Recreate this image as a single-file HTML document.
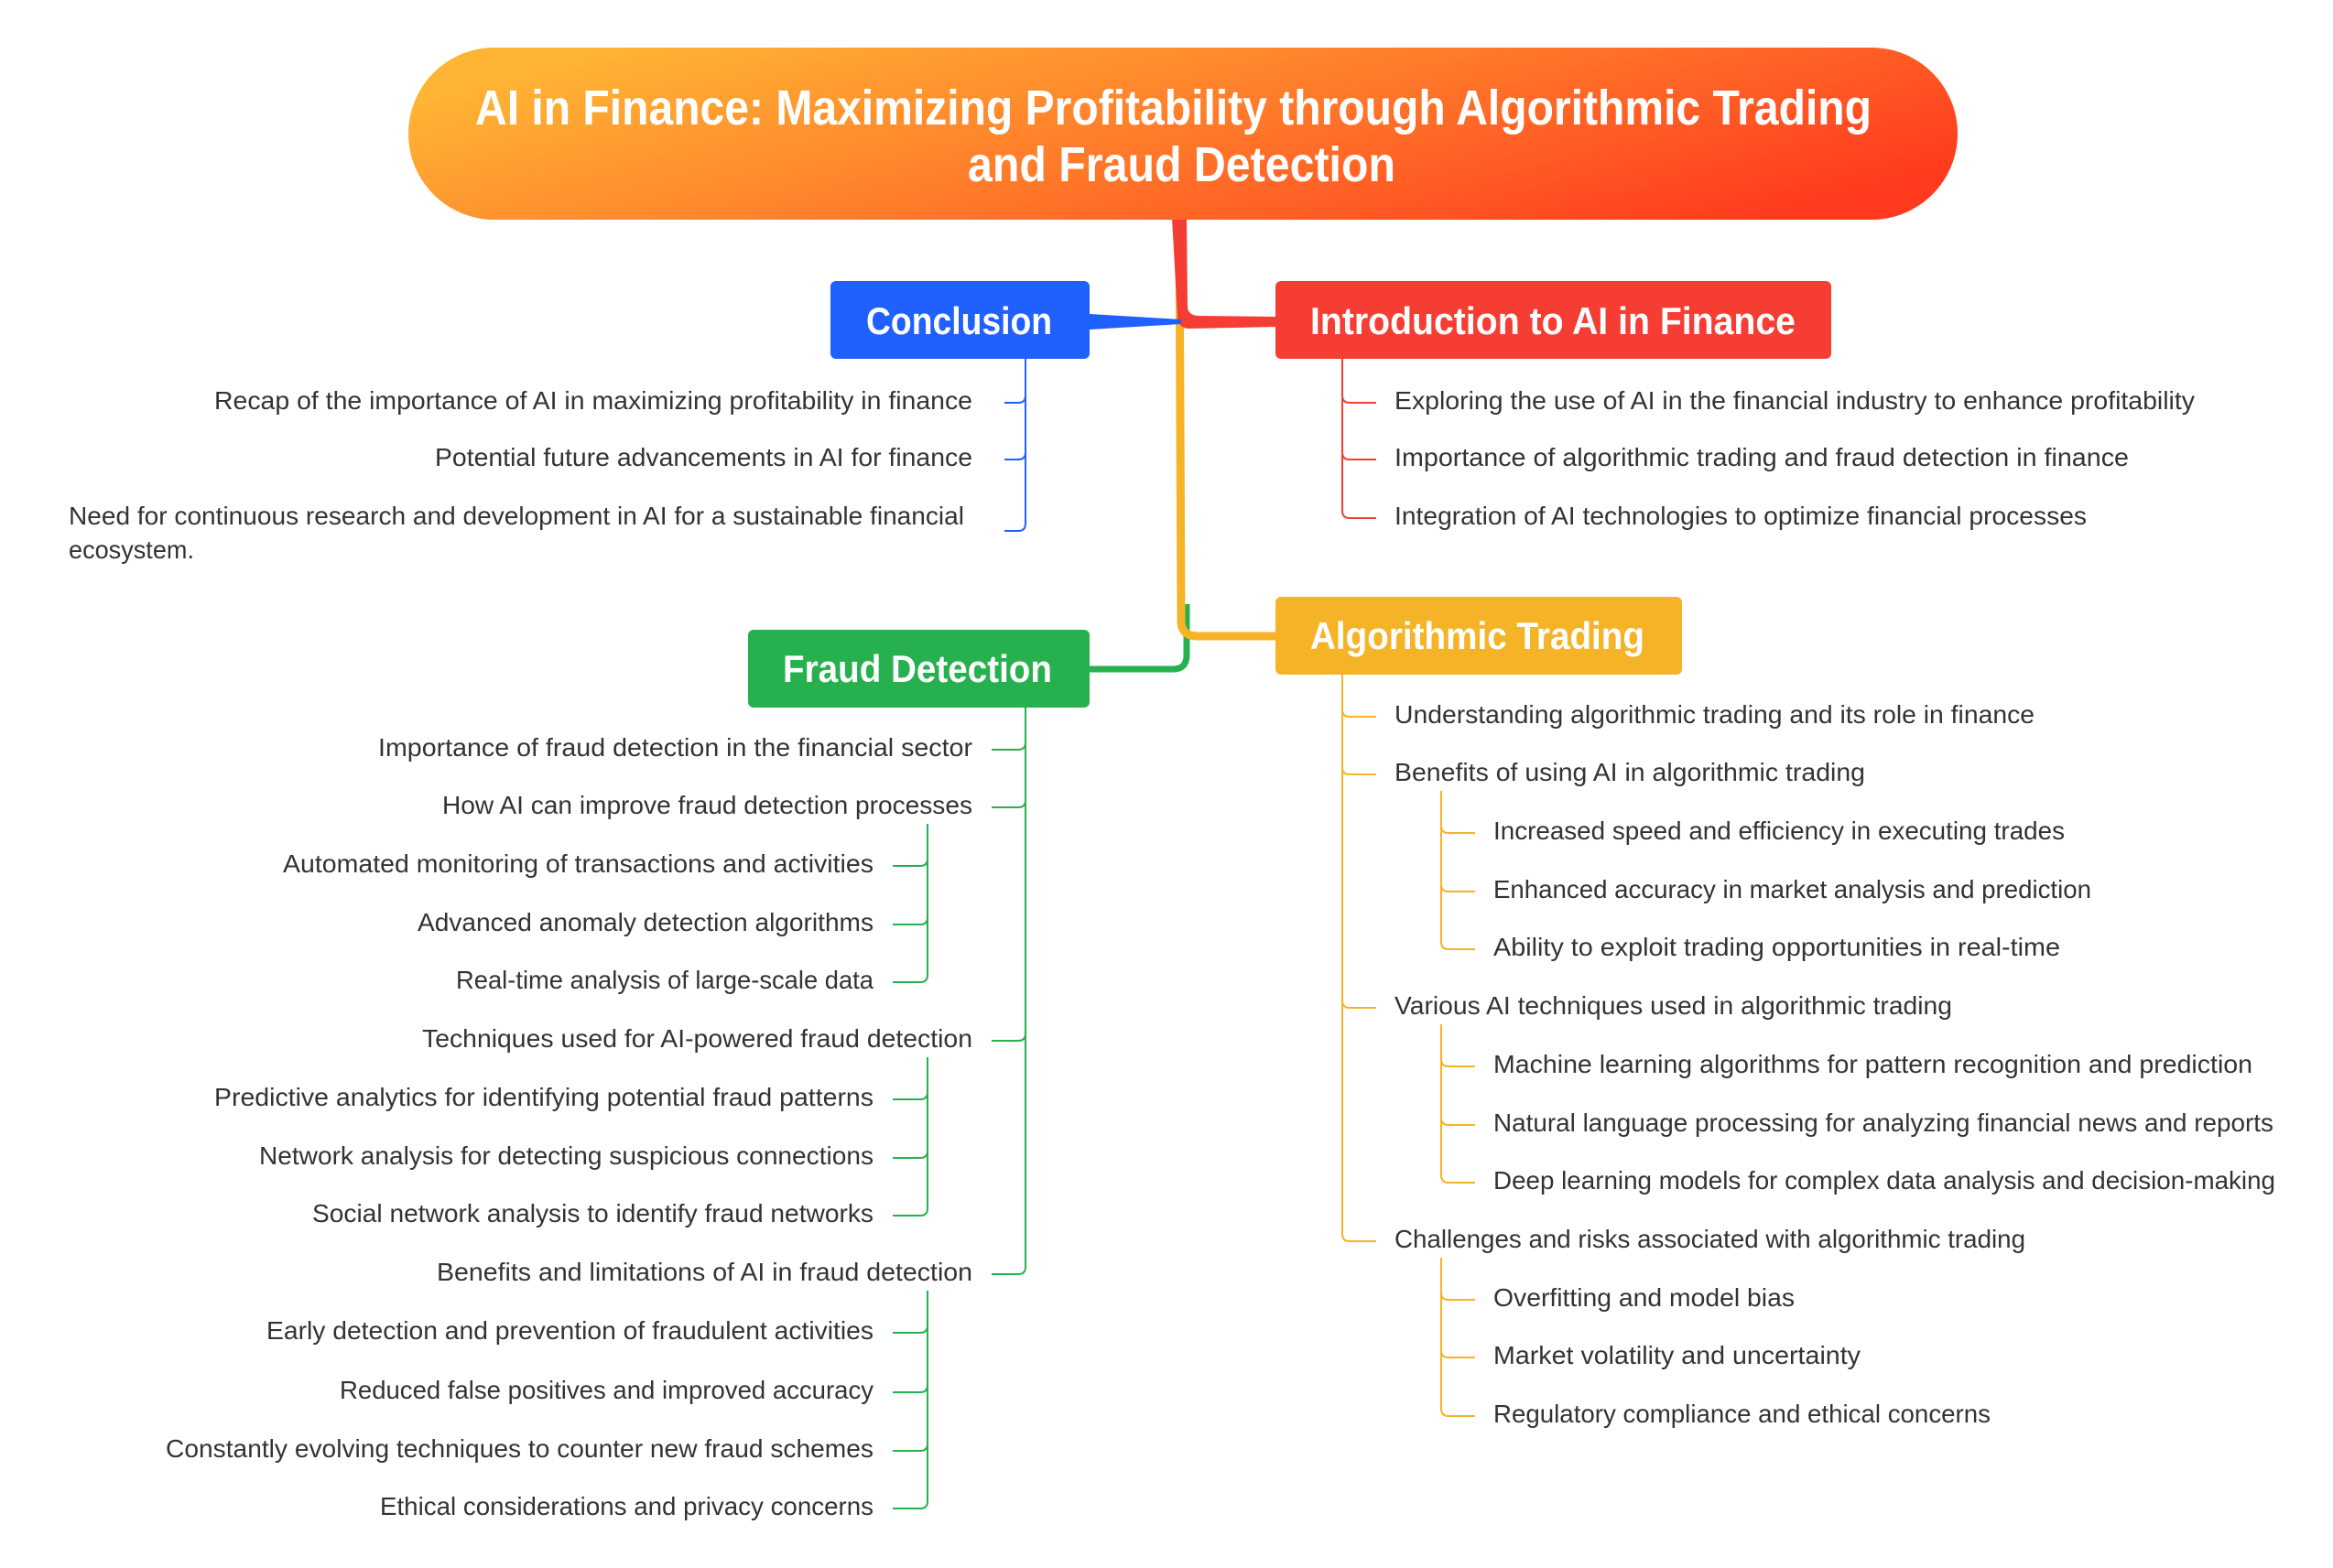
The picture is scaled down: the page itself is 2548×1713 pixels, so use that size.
<!DOCTYPE html>
<html><head><meta charset="utf-8"><style>html,body{margin:0;padding:0;background:#fff}svg{display:block}</style></head>
<body>
<svg width="2548" height="1713" viewBox="0 0 2548 1713" xmlns="http://www.w3.org/2000/svg" font-family="Liberation Sans, DejaVu Sans, sans-serif">
<defs>
<linearGradient id="g" x1="0" y1="0.3" x2="1" y2="0.7">
<stop offset="0" stop-color="#FFB534"/><stop offset="0.5" stop-color="#FF7A2A"/><stop offset="1" stop-color="#FF3A1E"/>
</linearGradient>
</defs>
<!-- main connectors -->
<path d="M1296 660 L1296 716 Q1296 731 1281 731 L1190 731" fill="none" stroke="#26B14E" stroke-width="7"/>
<path d="M1288 238 L1290 680 Q1291 695 1308 695 L1396 695" fill="none" stroke="#F5B428" stroke-width="9"/>
<path d="M1280 238 L1296 238 L1297 336 Q1298 344 1308 345 L1396 346 L1396 357 L1298 359 Q1286 358 1286 345 Z" fill="#F53D33"/>
<path d="M1190 343 L1190 360 L1290 354 L1290 349 Z" fill="#2060FF"/>
<!-- root -->
<rect x="446" y="52" width="1692" height="188" rx="94" fill="url(#g)"/>
<g fill="#fff" font-weight="bold" font-size="54">
<text x="519" y="136" textLength="1525" lengthAdjust="spacingAndGlyphs">AI in Finance: Maximizing Profitability through Algorithmic Trading</text>
<text x="1057" y="198" textLength="467" lengthAdjust="spacingAndGlyphs">and Fraud Detection</text>
</g>
<!-- nodes -->
<rect x="907" y="307" width="283" height="85" rx="6" fill="#2060FF"/>
<rect x="1393" y="307" width="607" height="85" rx="6" fill="#F53D33"/>
<rect x="1393" y="652" width="444" height="85" rx="6" fill="#F5B428"/>
<rect x="817" y="688" width="373" height="85" rx="6" fill="#26B14E"/>
<g fill="#fff" font-weight="bold" font-size="42">
<text x="946" y="365" textLength="203" lengthAdjust="spacingAndGlyphs">Conclusion</text>
<text x="1431" y="365" textLength="530" lengthAdjust="spacingAndGlyphs">Introduction to AI in Finance</text>
<text x="1431" y="709" textLength="365" lengthAdjust="spacingAndGlyphs">Algorithmic Trading</text>
<text x="855" y="745" textLength="294" lengthAdjust="spacingAndGlyphs">Fraud Detection</text>
</g>
<!-- branch lines -->
<g fill="none" stroke-width="2">
<g stroke="#2060FF">
<path d="M1120 392 L1120 572"/>
<path d="M1120 432 Q1120 440 1112 440 L1097 440"/>
<path d="M1120 494 Q1120 502 1112 502 L1097 502"/>
<path d="M1120 572 Q1120 580 1112 580 L1097 580"/>
</g>
<g stroke="#F53D33">
<path d="M1466 392 L1466 558"/>
<path d="M1466 432 Q1466 440 1474 440 L1503 440"/>
<path d="M1466 494 Q1466 502 1474 502 L1503 502"/>
<path d="M1466 558 Q1466 566 1474 566 L1503 566"/>
</g>
<g stroke="#F5B428">
<path d="M1466 737 L1466 1348"/>
<path d="M1466 775 Q1466 783 1474 783 L1503 783"/>
<path d="M1466 838 Q1466 846 1474 846 L1503 846"/>
<path d="M1466 1093 Q1466 1101 1474 1101 L1503 1101"/>
<path d="M1466 1348 Q1466 1356 1474 1356 L1503 1356"/>
<path d="M1574 864 L1574 1029"/>
<path d="M1574 902 Q1574 910 1582 910 L1611 910"/>
<path d="M1574 966 Q1574 974 1582 974 L1611 974"/>
<path d="M1574 1029 Q1574 1037 1582 1037 L1611 1037"/>
<path d="M1574 1119 L1574 1284"/>
<path d="M1574 1157 Q1574 1165 1582 1165 L1611 1165"/>
<path d="M1574 1221 Q1574 1229 1582 1229 L1611 1229"/>
<path d="M1574 1284 Q1574 1292 1582 1292 L1611 1292"/>
<path d="M1574 1374 L1574 1539"/>
<path d="M1574 1412 Q1574 1420 1582 1420 L1611 1420"/>
<path d="M1574 1475 Q1574 1483 1582 1483 L1611 1483"/>
<path d="M1574 1539 Q1574 1547 1582 1547 L1611 1547"/>
</g>
<g stroke="#26B14E">
<path d="M1120 773 L1120 1384"/>
<path d="M1120 811 Q1120 819 1112 819 L1083 819"/>
<path d="M1120 874 Q1120 882 1112 882 L1083 882"/>
<path d="M1120 1129 Q1120 1137 1112 1137 L1083 1137"/>
<path d="M1120 1384 Q1120 1392 1112 1392 L1083 1392"/>
<path d="M1013 900 L1013 1065"/>
<path d="M1013 938 Q1013 946 1005 946 L975 946"/>
<path d="M1013 1002 Q1013 1010 1005 1010 L975 1010"/>
<path d="M1013 1065 Q1013 1073 1005 1073 L975 1073"/>
<path d="M1013 1155 L1013 1320"/>
<path d="M1013 1193 Q1013 1201 1005 1201 L975 1201"/>
<path d="M1013 1257 Q1013 1265 1005 1265 L975 1265"/>
<path d="M1013 1320 Q1013 1328 1005 1328 L975 1328"/>
<path d="M1013 1410 L1013 1640"/>
<path d="M1013 1448 Q1013 1456 1005 1456 L975 1456"/>
<path d="M1013 1513 Q1013 1521 1005 1521 L975 1521"/>
<path d="M1013 1577 Q1013 1585 1005 1585 L975 1585"/>
<path d="M1013 1640 Q1013 1648 1005 1648 L975 1648"/>
</g>
</g>
<g fill="#333" font-size="28">
<text x="234" y="447" textLength="828" lengthAdjust="spacingAndGlyphs">Recap of the importance of AI in maximizing profitability in finance</text>
<text x="475" y="509" textLength="587" lengthAdjust="spacingAndGlyphs">Potential future advancements in AI for finance</text>
<text x="75" y="573" textLength="978" lengthAdjust="spacingAndGlyphs">Need for continuous research and development in AI for a sustainable financial</text>
<text x="75" y="610" textLength="137" lengthAdjust="spacingAndGlyphs">ecosystem.</text>
<text x="1523" y="447" textLength="874" lengthAdjust="spacingAndGlyphs">Exploring the use of AI in the financial industry to enhance profitability</text>
<text x="1523" y="509" textLength="802" lengthAdjust="spacingAndGlyphs">Importance of algorithmic trading and fraud detection in finance</text>
<text x="1523" y="573" textLength="756" lengthAdjust="spacingAndGlyphs">Integration of AI technologies to optimize financial processes</text>
<text x="1523" y="790" textLength="699" lengthAdjust="spacingAndGlyphs">Understanding algorithmic trading and its role in finance</text>
<text x="1523" y="853" textLength="514" lengthAdjust="spacingAndGlyphs">Benefits of using AI in algorithmic trading</text>
<text x="1631" y="917" textLength="624" lengthAdjust="spacingAndGlyphs">Increased speed and efficiency in executing trades</text>
<text x="1631" y="981" textLength="653" lengthAdjust="spacingAndGlyphs">Enhanced accuracy in market analysis and prediction</text>
<text x="1631" y="1044" textLength="619" lengthAdjust="spacingAndGlyphs">Ability to exploit trading opportunities in real-time</text>
<text x="1523" y="1108" textLength="609" lengthAdjust="spacingAndGlyphs">Various AI techniques used in algorithmic trading</text>
<text x="1631" y="1172" textLength="829" lengthAdjust="spacingAndGlyphs">Machine learning algorithms for pattern recognition and prediction</text>
<text x="1631" y="1236" textLength="852" lengthAdjust="spacingAndGlyphs">Natural language processing for analyzing financial news and reports</text>
<text x="1631" y="1299" textLength="854" lengthAdjust="spacingAndGlyphs">Deep learning models for complex data analysis and decision-making</text>
<text x="1523" y="1363" textLength="689" lengthAdjust="spacingAndGlyphs">Challenges and risks associated with algorithmic trading</text>
<text x="1631" y="1427" textLength="329" lengthAdjust="spacingAndGlyphs">Overfitting and model bias</text>
<text x="1631" y="1490" textLength="401" lengthAdjust="spacingAndGlyphs">Market volatility and uncertainty</text>
<text x="1631" y="1554" textLength="543" lengthAdjust="spacingAndGlyphs">Regulatory compliance and ethical concerns</text>
<text x="413" y="826" textLength="649" lengthAdjust="spacingAndGlyphs">Importance of fraud detection in the financial sector</text>
<text x="483" y="889" textLength="579" lengthAdjust="spacingAndGlyphs">How AI can improve fraud detection processes</text>
<text x="309" y="953" textLength="645" lengthAdjust="spacingAndGlyphs">Automated monitoring of transactions and activities</text>
<text x="456" y="1017" textLength="498" lengthAdjust="spacingAndGlyphs">Advanced anomaly detection algorithms</text>
<text x="498" y="1080" textLength="456" lengthAdjust="spacingAndGlyphs">Real-time analysis of large-scale data</text>
<text x="461" y="1144" textLength="601" lengthAdjust="spacingAndGlyphs">Techniques used for AI-powered fraud detection</text>
<text x="234" y="1208" textLength="720" lengthAdjust="spacingAndGlyphs">Predictive analytics for identifying potential fraud patterns</text>
<text x="283" y="1272" textLength="671" lengthAdjust="spacingAndGlyphs">Network analysis for detecting suspicious connections</text>
<text x="341" y="1335" textLength="613" lengthAdjust="spacingAndGlyphs">Social network analysis to identify fraud networks</text>
<text x="477" y="1399" textLength="585" lengthAdjust="spacingAndGlyphs">Benefits and limitations of AI in fraud detection</text>
<text x="291" y="1463" textLength="663" lengthAdjust="spacingAndGlyphs">Early detection and prevention of fraudulent activities</text>
<text x="371" y="1528" textLength="583" lengthAdjust="spacingAndGlyphs">Reduced false positives and improved accuracy</text>
<text x="181" y="1592" textLength="773" lengthAdjust="spacingAndGlyphs">Constantly evolving techniques to counter new fraud schemes</text>
<text x="415" y="1655" textLength="539" lengthAdjust="spacingAndGlyphs">Ethical considerations and privacy concerns</text>
</g>
</svg>
</body></html>
